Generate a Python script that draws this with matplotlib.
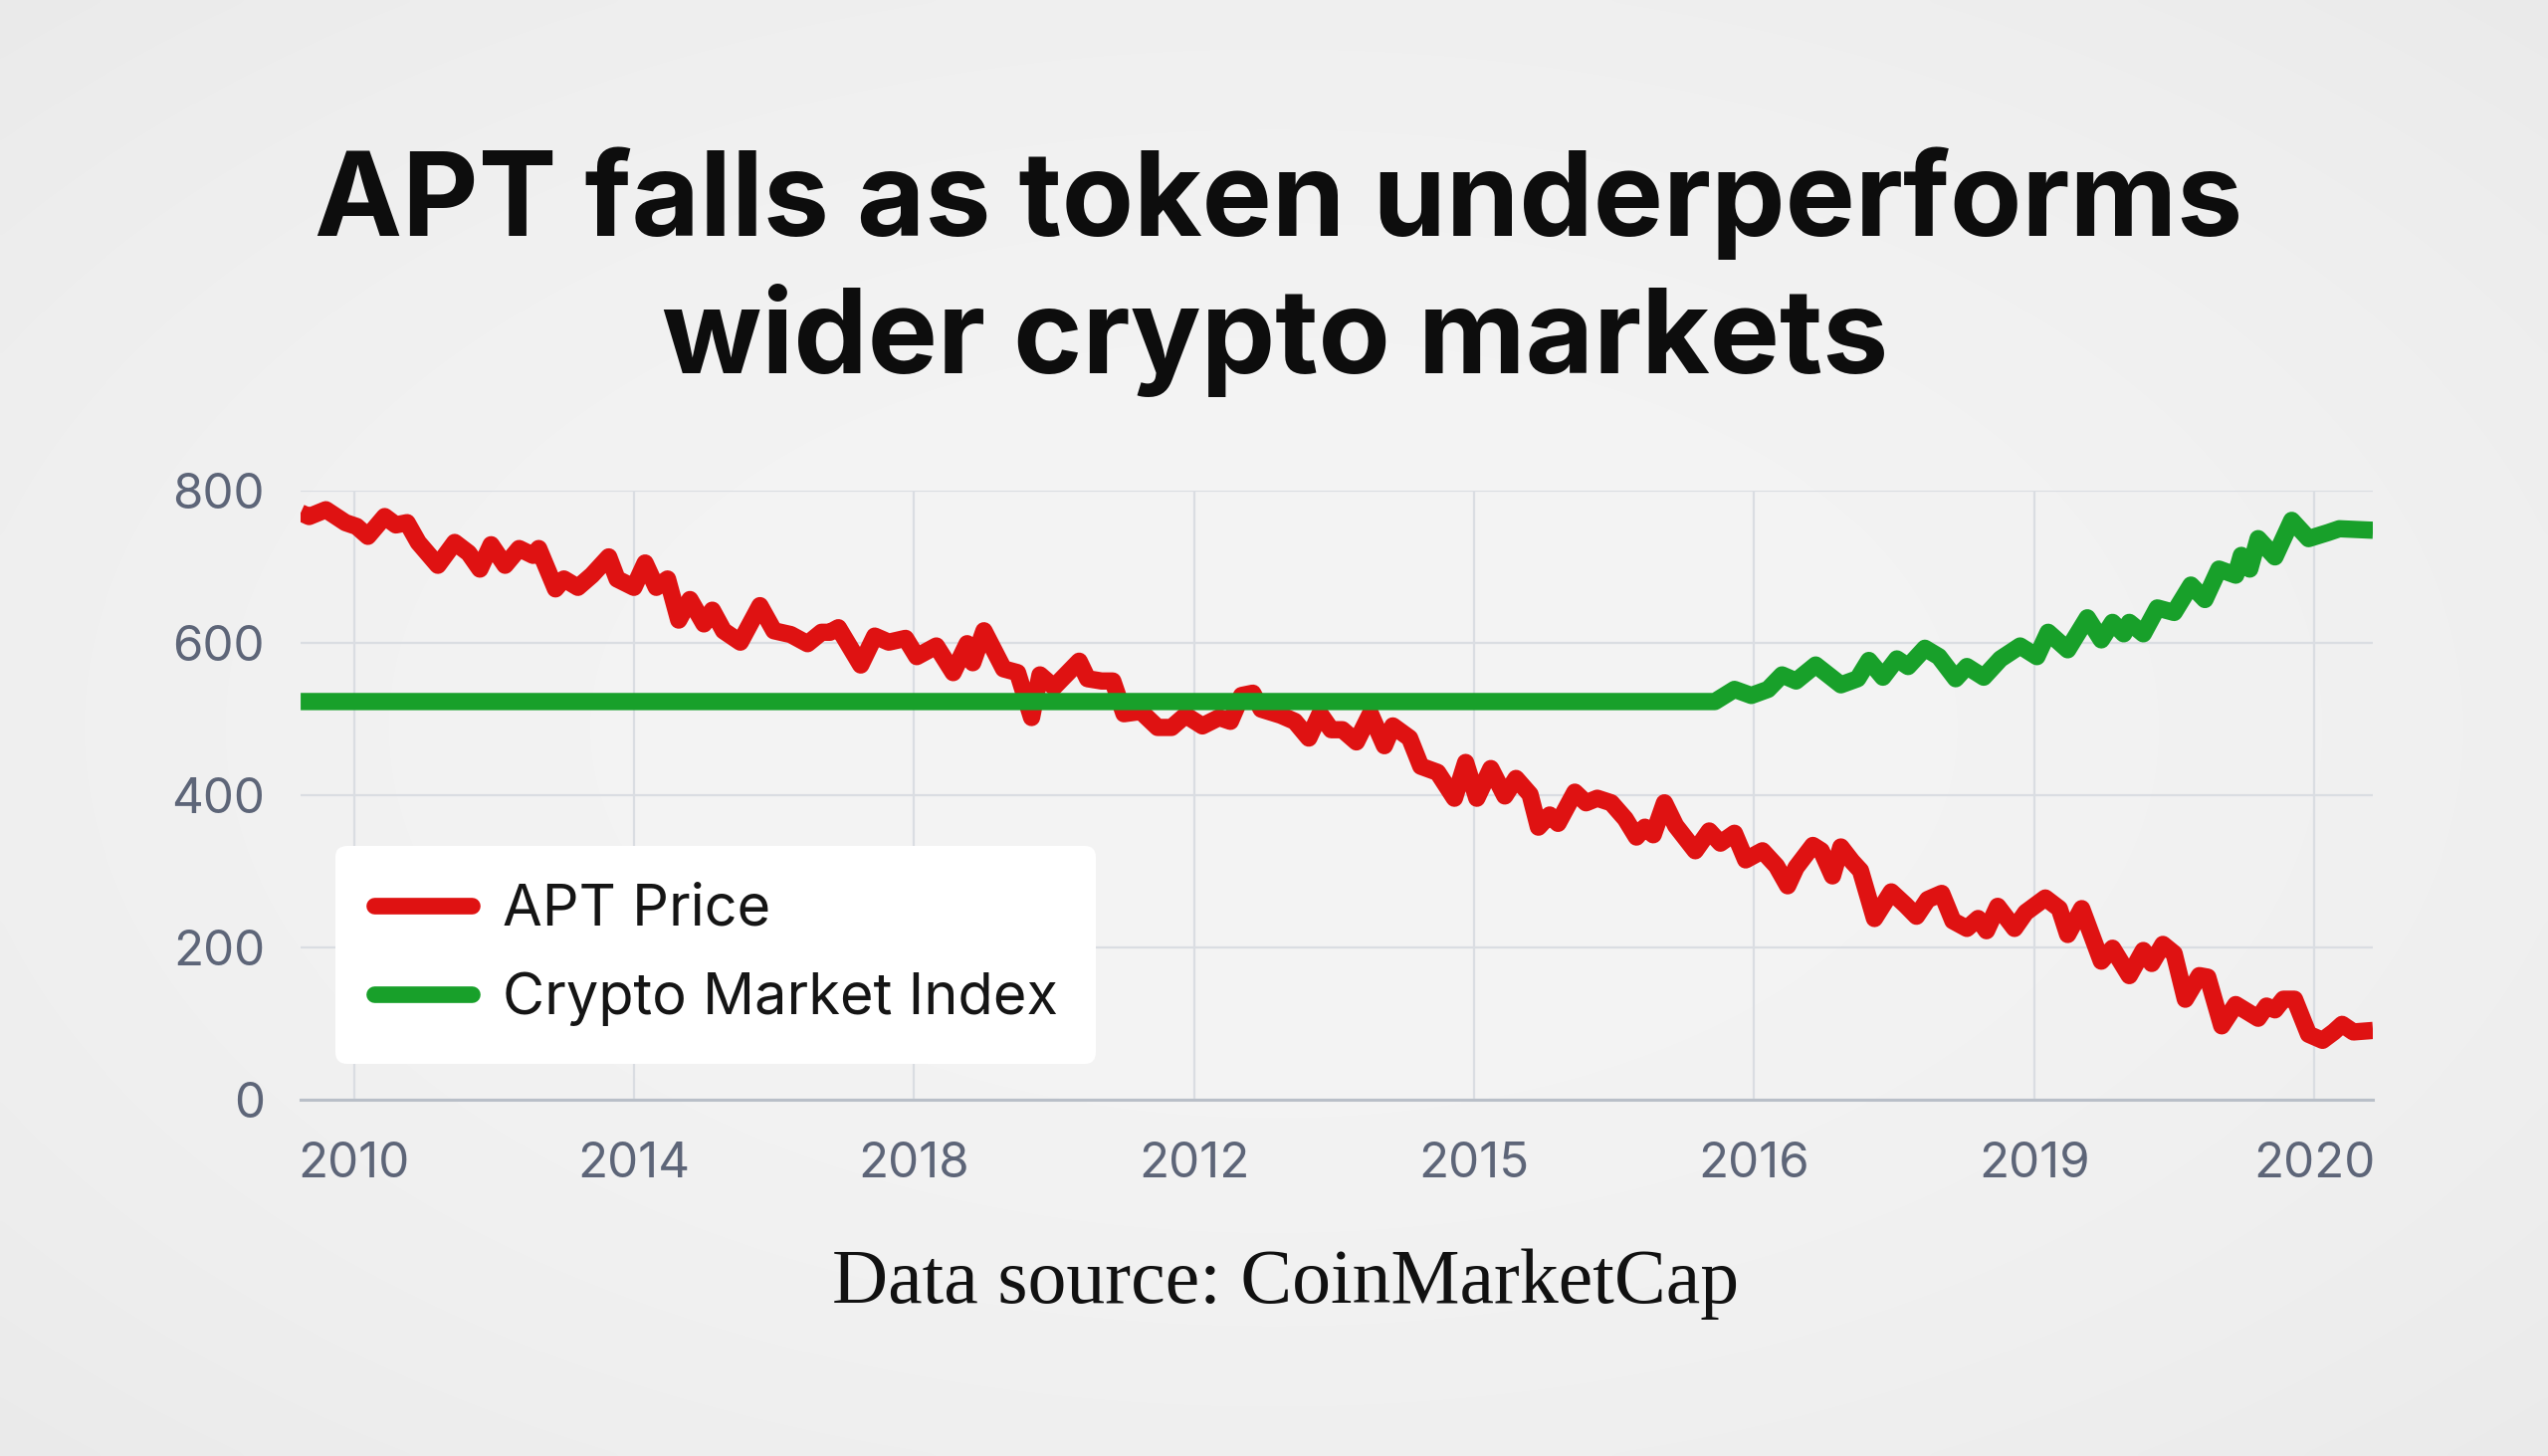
import numpy as np
import matplotlib.pyplot as plt

# %%
# data (x = position along the category axis)
year_labels = ["2010", "2014", "2018", "2012", "2015", "2016", "2019", "2020"]

apt_x = [-0.19, -0.16, -0.10, -0.03, 0.01, 0.05, 0.11, 0.15, 0.19, 0.23, 0.30, 0.36,
         0.41, 0.45, 0.49, 0.54, 0.59, 0.64, 0.66, 0.72, 0.75, 0.80, 0.85, 0.91,
         0.94, 1.00, 1.04, 1.08, 1.12, 1.16, 1.20, 1.25, 1.28, 1.32, 1.38, 1.45,
         1.50, 1.56, 1.62, 1.67, 1.70, 1.73, 1.81, 1.86, 1.91, 1.97, 2.01, 2.08,
         2.14, 2.19, 2.21, 2.25, 2.32, 2.37, 2.42, 2.45, 2.50, 2.59, 2.62, 2.67,
         2.71, 2.75, 2.81, 2.87, 2.92, 2.97, 3.03, 3.09, 3.13, 3.17, 3.21, 3.24,
         3.31, 3.36, 3.41, 3.45, 3.49, 3.53, 3.58, 3.63, 3.68, 3.71, 3.77, 3.81,
         3.87, 3.93, 3.97, 4.01, 4.06, 4.11, 4.15, 4.20, 4.23, 4.27, 4.30, 4.36,
         4.40, 4.44, 4.49, 4.54, 4.58, 4.61, 4.64, 4.68, 4.72, 4.79, 4.84, 4.88,
         4.93, 4.97, 5.03, 5.08, 5.12, 5.15, 5.21, 5.24, 5.28, 5.31, 5.35, 5.38,
         5.43, 5.49, 5.54, 5.58, 5.62, 5.67, 5.71, 5.76, 5.80, 5.83, 5.87, 5.93,
         5.97, 6.04, 6.09, 6.12, 6.17, 6.24, 6.28, 6.34, 6.39, 6.42, 6.46, 6.50,
         6.54, 6.59, 6.62, 6.67, 6.72, 6.80, 6.83, 6.86, 6.89, 6.93, 6.98, 7.03,
         7.07, 7.10, 7.14, 7.21]
apt_price = [771, 766, 775, 758, 753, 740, 766, 755, 758, 732, 702, 732,
             718, 697, 729, 702, 724, 715, 724, 671, 684, 673, 689, 713,
             684, 673, 705, 673, 684, 630, 657, 625, 643, 616, 601, 649,
             616, 611, 599, 614, 614, 620, 571, 609, 601, 606, 582, 596,
             561, 599, 574, 616, 566, 561, 502, 558, 542, 576, 553, 550,
             550, 507, 510, 489, 489, 505, 491, 502, 497, 531, 534, 513,
             505, 497, 475, 507, 486, 486, 470, 507, 465, 491, 475, 438,
             430, 396, 443, 396, 435, 399, 422, 401, 358, 374, 363, 404,
             390, 396, 390, 369, 345, 358, 348, 390, 360, 327, 353, 337,
             350, 315, 327, 307, 281, 305, 334, 327, 294, 332, 313, 301,
             238, 273, 256, 241, 263, 271, 235, 225, 238, 222, 254, 225,
             246, 265, 251, 217, 251, 182, 199, 163, 196, 179, 204, 192,
             132, 163, 161, 97, 125, 107, 123, 118, 132, 132, 86, 78,
             89, 99, 89, 91]

index_x = [-0.19, 1.0, 2.0, 3.0, 4.0, 4.86, 4.93, 4.99, 5.05, 5.10, 5.15, 5.22,
           5.31, 5.37, 5.41, 5.46, 5.51, 5.55, 5.61, 5.66, 5.72, 5.76, 5.82, 5.88,
           5.95, 6.01, 6.05, 6.12, 6.19, 6.24, 6.28, 6.32, 6.34, 6.39, 6.44, 6.50,
           6.56, 6.61, 6.66, 6.72, 6.74, 6.77, 6.80, 6.86, 6.92, 6.98, 7.05, 7.09,
           7.21]
index_vals = [523, 523, 523, 523, 523, 523, 539, 531, 539, 558, 550, 571,
              545, 553, 577, 555, 579, 569, 593, 582, 553, 569, 555, 579,
              596, 582, 614, 591, 633, 604, 627, 612, 627, 612, 646, 640,
              676, 657, 697, 689, 715, 697, 737, 713, 761, 737, 745, 750,
              748]

# %%
plt.rcParams['font.family'] = ['Inter', 'DejaVu Sans']

fig = plt.figure(figsize=(25.6, 14.63), dpi=100)

# soft grey background with a lighter centre
bg = fig.add_axes([0, 0, 1, 1], zorder=-10)
yy, xx = np.mgrid[-1:1:300j, -1:1:500j]
r = np.sqrt(xx ** 2 + yy ** 2) / np.sqrt(2)
bg.imshow(0.955 - 0.04 * r ** 2, cmap='gray', vmin=0, vmax=1,
          aspect='auto', extent=[0, 1, 0, 1], interpolation='bicubic')
bg.axis('off')

ax = fig.add_axes([0.118, 0.2447, 0.8133, 0.4183])
ax.set_facecolor('none')

ax.plot(apt_x, apt_price, color='#df1212', lw=12.5, solid_joinstyle='round',
        solid_capstyle='butt', label='APT Price', zorder=3)
ax.plot(index_x, index_vals, color='#18a02a', lw=12.5, solid_joinstyle='round',
        solid_capstyle='butt', label='Crypto Market Index', zorder=4)

ax.set_xlim(-0.19, 7.21)
ax.set_ylim(0, 800)
ax.set_xticks(range(len(year_labels)))
ax.set_xticklabels(year_labels)
ax.set_yticks([0, 200, 400, 600, 800])

ax.grid(True, color='#dadde2', lw=1.6)
ax.set_axisbelow(True)
for side in ['top', 'right', 'left']:
    ax.spines[side].set_visible(False)
ax.spines['bottom'].set_color('#b9bfc8')
ax.spines['bottom'].set_linewidth(2.2)

ax.tick_params(axis='both', length=0, labelsize=35.5, labelcolor='#5d6578')
ax.tick_params(axis='y', pad=26)
ax.tick_params(axis='x', pad=30)

leg = ax.legend(loc='lower left', bbox_to_anchor=(0.017, 0.059), fontsize=41.5,
                frameon=True, facecolor='white', edgecolor='none', framealpha=1,
                handlelength=1.7, handletextpad=0.55, labelspacing=0.6,
                borderpad=0.66, borderaxespad=0)
for h in leg.get_lines():
    h.set_linewidth(12)
    h.set_solid_capstyle('round')
for t in leg.get_texts():
    t.set_color('#151515')

# %%
fig.text(0.502, 0.838, "APT falls as token underperforms", ha='center',
         va='baseline', fontsize=85, fontweight='bold', color='#0d0d0d')
fig.text(0.5006, 0.7437, "wider crypto markets", ha='center',
         va='baseline', fontsize=85, fontweight='bold', color='#0d0d0d')

fig.text(0.5047, 0.1053, "Data source: CoinMarketCap", ha='center',
         va='baseline', fontsize=56, family='Liberation Serif', color='#111111')

fig.savefig('out.png', dpi=100)
